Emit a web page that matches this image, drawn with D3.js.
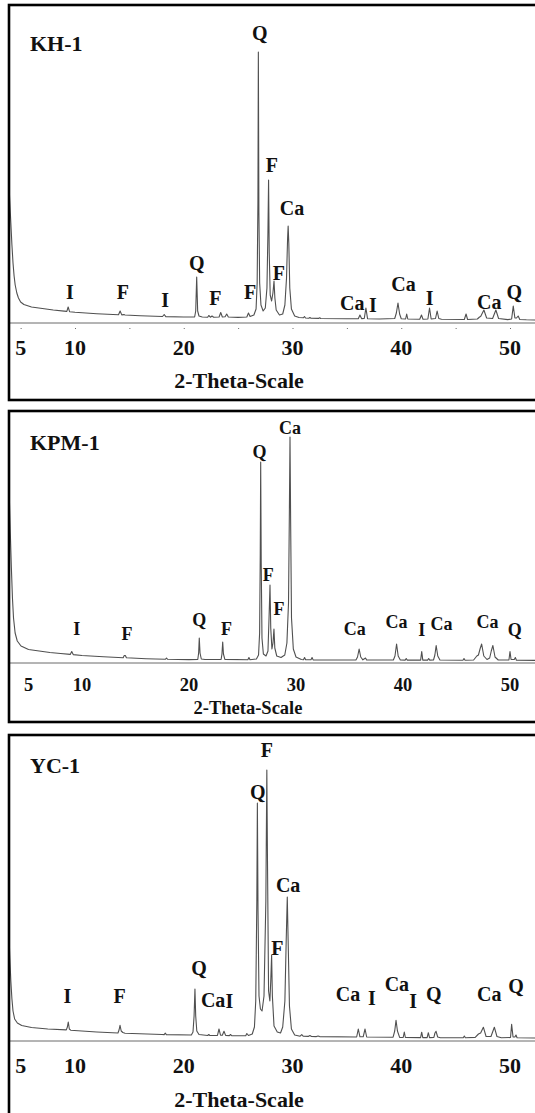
<!DOCTYPE html>
<html>
  <head>
    <title> XRD patterns </title>
    <meta charset="utf-8">
    <style>
    body { margin: 0; border: 0; overflow: hidden; background: #fff; }
    text {
      font-family: "Liberation Serif", "Times New Roman", serif;
      font-weight: bold;
      fill: #111;
    }
    .trace { fill: none; stroke: #505050; stroke-width: 1.1px; stroke-linejoin: round; }
    .axis line, .axis path { stroke: #6a6a6a; stroke-width: 1px; }
    .frame { fill: none; stroke: #000; stroke-width: 2.6px; }
    </style>
  </head>
  <body>
    <script src="https://cdnjs.cloudflare.com/ajax/libs/d3/7.8.5/d3.min.js"></script>
    <script>
var kh1Trace = [[3.93,138],[4.0,122],[4.1,100],[4.2,78],[4.3,60],[4.4,47],[4.5,38],[4.65,30],[4.8,25],[5.0,21],[5.3,18.5],[6,16],[7,14.5],[8,13],[9,11.9],
  [9.25,11.6],[9.37,16],[9.5,11.3],[10,10.8],[12,9.3],[13,8.7],[14.0,8.3],[14.15,12],[14.3,8.1],[14.5,8.4],[14.6,8],
  [16,7.3],[18.05,6.5],[18.2,8.5],[18.35,6.4],[20,6],[21.0,6],[21.1,12],[21.19,46],[21.28,12],[21.4,7],[21.7,6],[22.2,5.8],[22.3,7.5],[22.45,5.8],
  [22.6,7],[22.75,5.8],[23.25,6],[23.4,10.5],[23.55,6],[23.8,6.2],[23.95,9],[24.1,6],[25,5.6],[25.8,6],[25.95,10],[26.1,6.5],[26.45,8],
  [26.65,14],[26.75,40],[26.82,120],[26.86,271],[26.91,110],[26.98,40],[27.1,18],[27.3,12],[27.5,15],[27.65,35],[27.74,90],[27.8,143],[27.86,70],
  [27.95,28],[28.08,22],[28.2,30],[28.3,42],[28.38,25],[28.5,13],[28.8,8],[29.1,9],[29.3,18],[29.45,45],[29.55,85],[29.6,97],[29.66,80],[29.75,35],
  [29.9,14],[30.2,7],[30.6,5.5],[31.0,5.2],[31.1,6.5],[31.2,5],[31.5,4.8],[31.6,5.5],[31.7,4.8],[32.4,4.6],[32.5,5.2],[32.6,4.5],[35,4.2],
  [36.05,4.3],[36.2,8],[36.35,4.4],[36.6,4.5],[36.75,15],[36.9,4.3],[38,4],[39.4,4.5],[39.55,10],[39.7,20],[39.85,9],[40.0,4.3],[40.4,4],[40.5,9],
  [40.6,4],[41.7,3.8],[41.86,8],[42.0,3.8],[42.45,4],[42.6,15],[42.75,4],[43.15,4.5],[43.3,12],[43.45,4.5],[43.7,3.7],[45.8,3.5],[45.96,9],[46.1,3.5],
  [47.0,4],[47.2,6],[47.3,6.5],[47.6,13],[47.85,5],[48.4,4.5],[48.7,13],[48.95,4.5],[49.8,3.4],[50.15,4],[50.3,17],[50.45,5],[50.6,5],[50.75,7],
  [50.9,3.5],[51.5,3.2],[52.5,3]];

var kpm1Trace = [[3.18,176],[3.3,130],[3.4,95],[3.5,65],[3.6,45],[3.75,30],[3.95,22],[4.3,17],[5,13.5],[6,12],[7,10.5],[8,9.5],[8.9,8.6],
  [9.04,11.5],[9.18,8.4],[10,7.5],[12,6.3],[13.85,5.3],[13.95,7.5],[14.05,7.5],[14.15,5.2],[16,4.3],[17.8,3.8],[17.9,5],[18.0,3.7],[20,3.4],
  [20.82,3.5],[20.9,10],[20.96,25],[21.03,10],[21.15,4],[21.5,3.5],[23.0,3.5],[23.08,9],[23.15,21],[23.22,9],[23.35,3.6],[25.5,3.3],[25.6,5.5],
  [25.7,3.3],[26.3,4],[26.5,8],[26.6,30],[26.66,110],[26.7,201],[26.75,100],[26.82,25],[26.95,9],[27.2,7],[27.38,12],[27.48,45],[27.57,78],
  [27.64,35],[27.75,14],[27.85,20],[27.94,34],[28.02,15],[28.2,7],[28.6,5.5],[28.95,8],[29.15,20],[29.3,60],[29.38,150],[29.44,226],[29.5,140],
  [29.58,45],[29.75,14],[30.0,6],[30.5,3.5],[30.7,3.2],[30.8,5.5],[30.9,3.2],[31.4,3.2],[31.5,5.5],[31.6,3.1],[35.6,3],[35.75,6],[35.9,14],
  [36.05,6],[36.25,3.2],[36.5,5],[36.6,3],[39.1,3],[39.25,7],[39.4,19],[39.55,7],[39.75,3],[40.2,2.9],[40.3,4.5],[40.4,2.9],[41.65,2.9],
  [41.75,11.5],[41.85,2.9],[42.3,2.9],[42.4,4.5],[42.5,2.9],[42.85,3],[42.98,8],[43.1,17.5],[43.25,7],[43.45,3],[45.6,2.8],[45.7,4.5],[45.8,2.8],
  [46.6,3],[46.9,7],[47.05,8],[47.2,14],[47.35,19],[47.55,7],[47.85,3.5],[48.1,5],[48.25,12],[48.4,17.5],[48.6,6],[48.9,3],[49.9,3],[50.0,11.5],
  [50.1,3.5],[50.4,3.5],[50.5,5.5],[50.6,2.7],[52.5,2.6]];

var yc1Trace = [[3.9,116],[4.0,85],[4.1,60],[4.2,42],[4.3,30],[4.45,22],[4.7,18],[5.1,15.5],[6,13.5],[7.5,12],[9.2,11.1],[9.3,14],[9.38,19],
  [9.48,12],[9.6,10.8],[12,9],[13.95,8],[14.05,11],[14.14,15.7],[14.25,10],[14.4,8.5],[14.6,7.8],[18,6.5],[18.2,6.4],[18.3,7.8],[18.4,6.4],
  [20.7,6],[20.85,9],[20.95,25],[21.03,52],[21.1,25],[21.2,10],[21.4,6.5],[22.2,5.5],[22.3,6.5],[22.4,5.5],[23.1,5.6],[23.24,12],[23.38,5.8],
  [23.55,5.8],[23.7,9.7],[23.85,5.6],[24.2,5.4],[24.3,6.5],[24.4,5.4],[25.7,5.2],[25.8,7.5],[25.95,5.5],[26.3,7],[26.5,14],[26.62,40],[26.72,140],
  [26.77,238],[26.83,130],[26.92,45],[27.05,32],[27.2,30],[27.38,45],[27.55,140],[27.64,271],[27.7,180],[27.8,50],[27.92,40],[28.0,60],[28.08,86],
  [28.15,45],[28.3,15],[28.6,9],[28.9,8],[29.1,14],[29.3,40],[29.42,100],[29.52,144],[29.6,100],[29.72,35],[29.9,12],[30.2,6],[30.7,4.8],
  [30.85,6.4],[31.0,4.7],[31.45,4.6],[31.6,5.5],[31.75,4.5],[32.2,4.4],[32.35,5],[32.5,4.4],[35.9,4],[36.05,12],[36.2,4.2],[36.5,4.2],[36.67,12],
  [36.82,4],[39.25,3.8],[39.4,10],[39.52,20.8],[39.65,10],[39.85,3.6],[40.18,3.5],[40.28,9],[40.38,3.5],[41.78,3.4],[41.88,8.8],[41.98,3.4],
  [42.38,3.4],[42.49,8.3],[42.6,3.4],[43.0,3.6],[43.1,8],[43.2,9.7],[43.35,4],[43.6,3.3],[45.7,3.2],[45.8,5],[45.9,3.2],[46.8,3.6],[47.1,7],
  [47.3,8],[47.55,13.8],[47.8,4.5],[48.25,4.5],[48.56,13.8],[48.8,4.5],[49.2,3.2],[50.05,3.5],[50.15,16.6],[50.28,4],[50.45,4],[50.55,6],
  [50.65,3.3],[52.5,3]];

// phase labels: [text, 2-theta, intensity level of label centre]
var kh1Labels = [["Q",27.0,290],["F",28.1,158],["Ca",29.95,115],["I",9.54,31],["F",14.4,31],["I",18.3,23],["Q",21.2,60],["F",22.9,25],
  ["F",26.1,31],["F",28.75,50],["Ca",35.5,20],["I",37.4,18],["Ca",40.2,39],["I",42.6,25],["Ca",48.1,21],["Q",50.4,31]];
var kpm1Labels = [["Ca",29.44,235],["Q",26.6,211],["F",27.4,88],["F",28.4,54],["I",9.5,34],["F",14.2,29],["Q",20.96,43],["F",23.5,34],
  ["Ca",35.5,34],["Ca",39.4,41],["I",41.75,33],["Ca",43.6,39],["Ca",47.9,41],["Q",50.45,33]];
var yc1Labels = [["F",27.65,291],["Q",26.8,249],["Ca",29.6,156],["F",28.6,93],["I",9.3,45],["F",14.1,45],["Q",21.4,73],["Ca",22.7,41],
  ["I",24.2,40],["Ca",35.1,47],["I",37.3,43],["Ca",39.6,57],["I",41.1,40],["Q",43.0,47],["Ca",48.1,47],["Q",50.55,55]];

var sampleNames = ["KH-1", "KPM-1", "YC-1"];
var tickLabels = [5, 10, 20, 30, 40, 50];
var axisTitle = "2-Theta-Scale";

var width = 535, height = 1113;

var panels = [
  {name: sampleNames[0], trace: kh1Trace, labels: kh1Labels, top: 5, bottom: 400, axisY: 323, x10: 75, x50: 510,
   nameY: 51, tickY: 355, titleY: 388, titleX: 239, font: 22, peakFont: 20},
  {name: sampleNames[1], trace: kpm1Trace, labels: kpm1Labels, top: 411, bottom: 722, axisY: 663, x10: 82, x50: 510,
   nameY: 450, tickY: 691, titleY: 714, titleX: 248, font: 18.5, peakFont: 18},
  {name: sampleNames[2], trace: yc1Trace, labels: yc1Labels, top: 735, bottom: 1130, axisY: 1041, x10: 75, x50: 510,
   nameY: 773, tickY: 1073, titleY: 1107, titleX: 239, font: 22, peakFont: 20}
];

var svg = d3.select("body").append("svg")
    .attr("width", width)
    .attr("height", height);

panels.forEach(function(p, i) {
  var x = d3.scaleLinear().domain([10, 50]).range([p.x10, p.x50]);
  var y = d3.scaleLinear().domain([0, 100]).range([p.axisY, p.axisY - 100]);

  var g = svg.append("g").attr("class", "panel");

  g.append("clipPath").attr("id", "clip" + i)
    .append("rect")
    .attr("x", 9).attr("y", p.top)
    .attr("width", width).attr("height", p.bottom - p.top);

  var axis = d3.axisBottom(x)
    .tickValues(d3.range(4, 53))
    .tickSize(4)
    .tickFormat("");

  g.append("g")
    .attr("class", "axis")
    .attr("clip-path", "url(#clip" + i + ")")
    .attr("transform", "translate(0," + p.axisY + ")")
    .call(axis)
    .call(function(a) { a.select(".domain").remove(); })
    .call(function(a) {
      a.selectAll(".tick line").attr("y2", function(d) { return d % 5 == 0 ? 6 : 4; });
    });

  g.append("line")
    .attr("class", "axis")
    .attr("x1", 9).attr("x2", width)
    .attr("y1", p.axisY).attr("y2", p.axisY)
    .attr("stroke", "#6a6a6a");

  g.selectAll("text.tick")
    .data(tickLabels)
    .enter().append("text")
    .attr("class", "tick")
    .attr("x", function(d) { return x(d); })
    .attr("y", p.tickY)
    .attr("text-anchor", "middle")
    .style("font-size", p.font + "px")
    .text(function(d) { return d; });

  g.append("path")
    .datum(p.trace)
    .attr("class", "trace")
    .attr("clip-path", "url(#clip" + i + ")")
    .attr("d", d3.line()
      .x(function(d) { return x(d[0]); })
      .y(function(d) { return y(d[1]); }));

  g.selectAll("text.phase")
    .data(p.labels)
    .enter().append("text")
    .attr("class", "phase")
    .attr("x", function(d) { return x(d[1]); })
    .attr("y", function(d) { return y(d[2]); })
    .attr("text-anchor", "middle")
    .attr("dominant-baseline", "central")
    .style("font-size", p.peakFont + "px")
    .text(function(d) { return d[0]; });

  g.append("text")
    .attr("x", 30)
    .attr("y", p.nameY)
    .style("font-size", "22px")
    .text(p.name);

  g.append("text")
    .attr("x", p.titleX)
    .attr("y", p.titleY)
    .attr("text-anchor", "middle")
    .style("font-size", p.font + "px")
    .text(axisTitle);

  g.append("rect")
    .attr("class", "frame")
    .attr("x", 9).attr("y", p.top)
    .attr("width", width + 20).attr("height", p.bottom - p.top);
});
    </script>
  </body>
</html>
